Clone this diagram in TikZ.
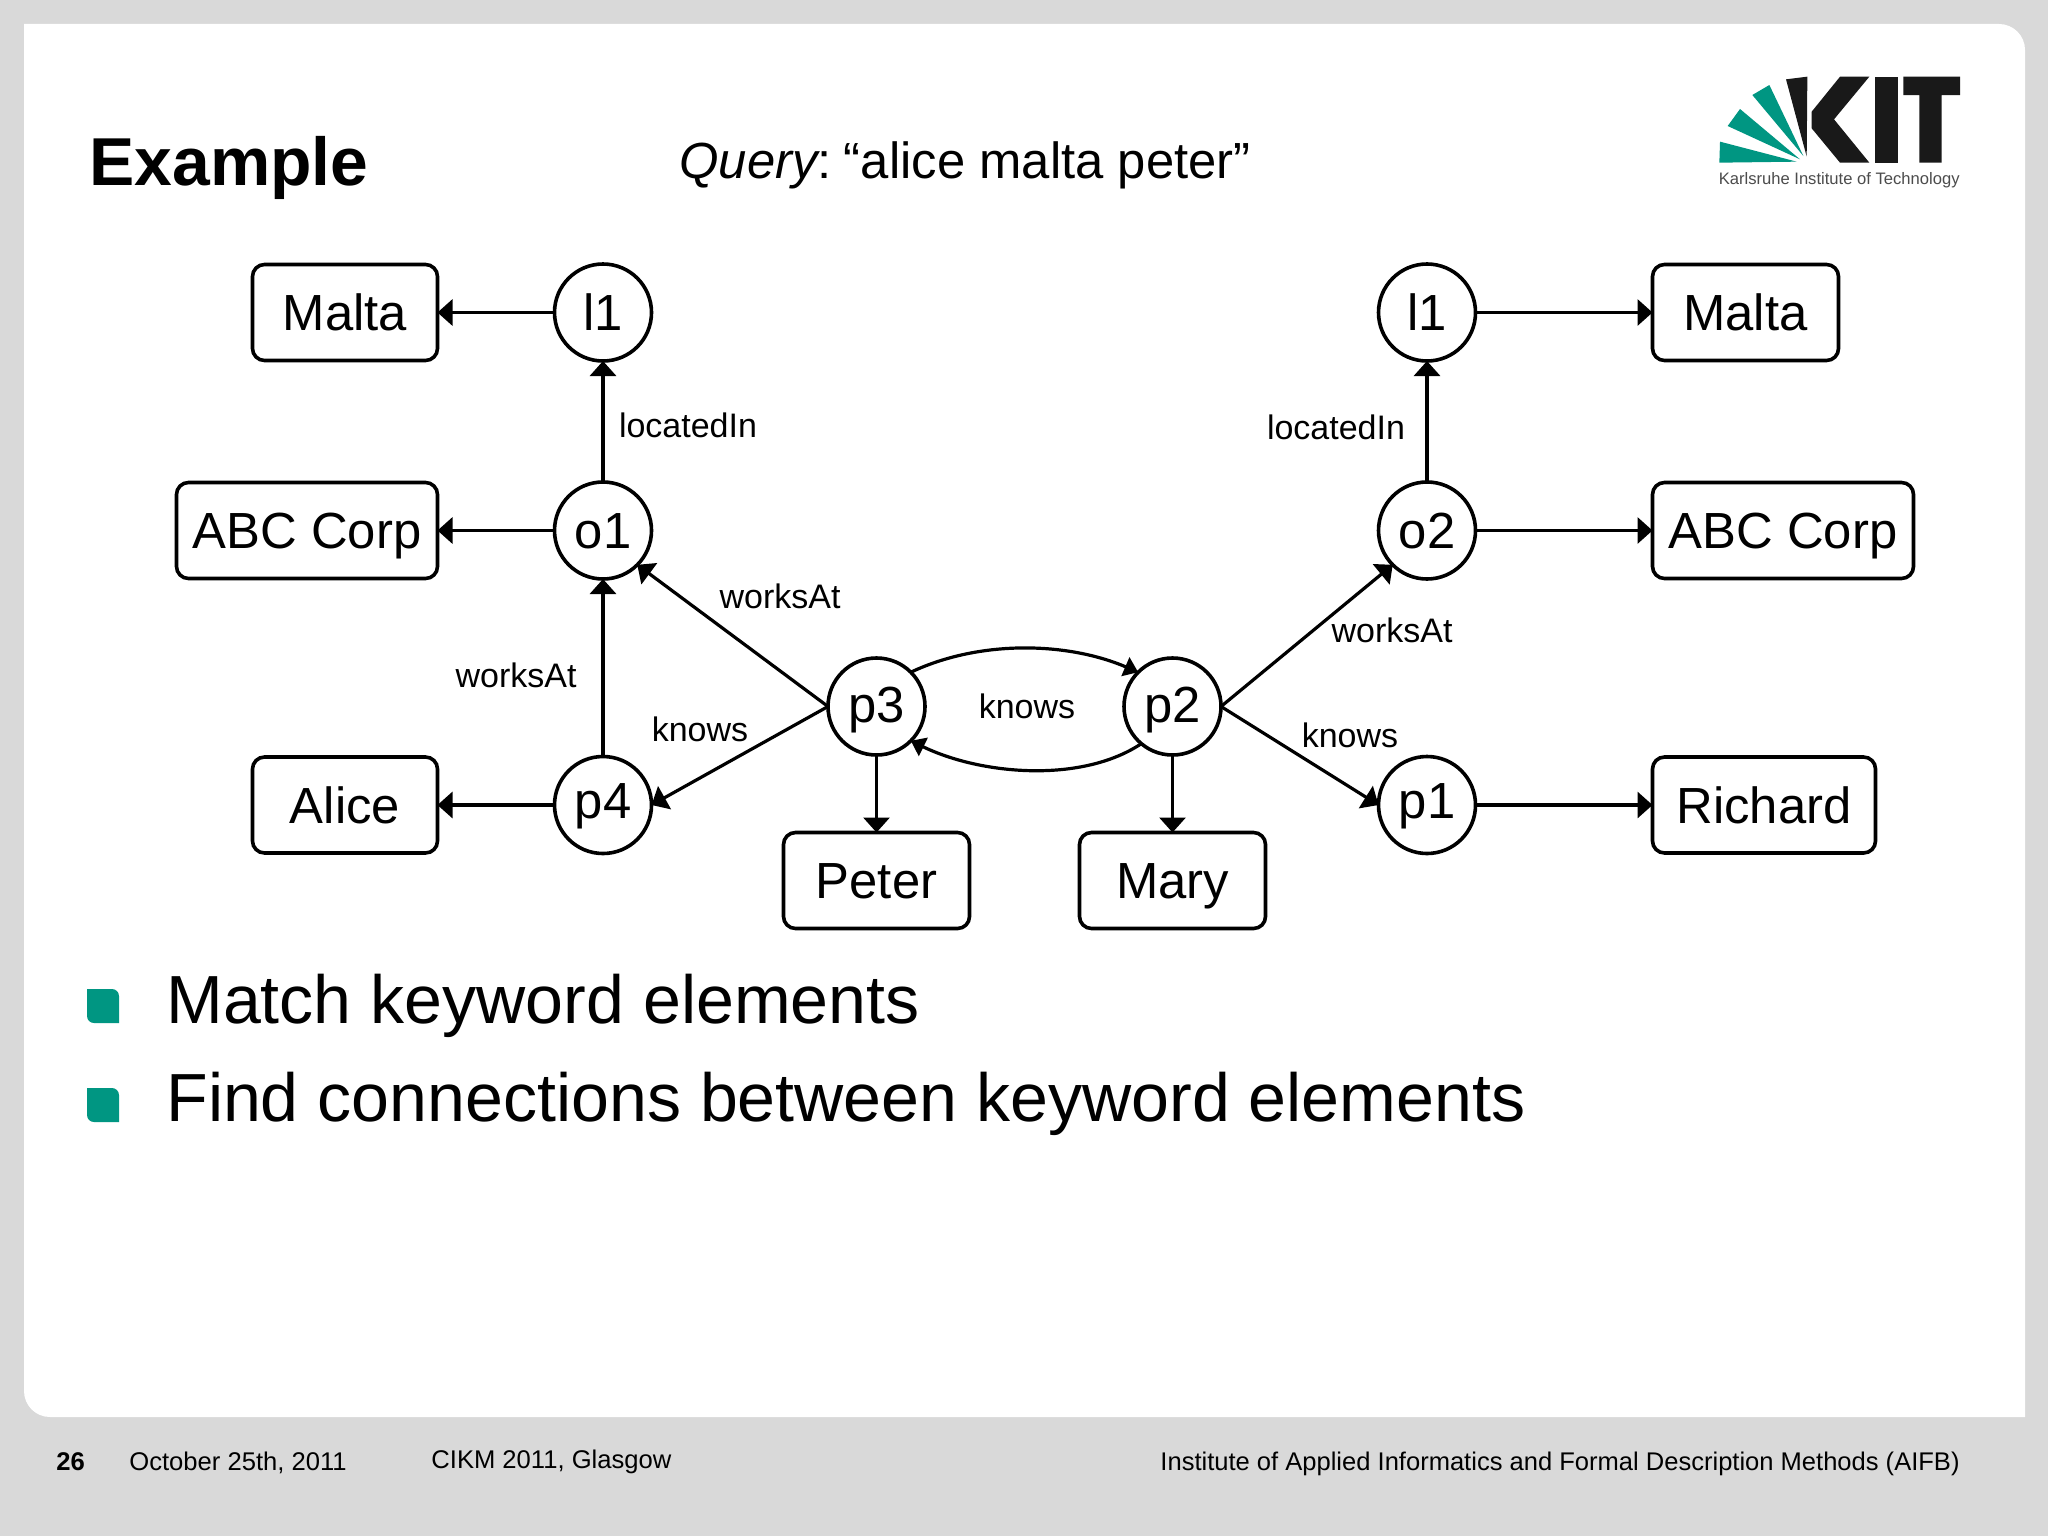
\documentclass[tikz,border=0pt]{standalone}
\usepackage{fontspec}
\setmainfont{Liberation Sans}
\usetikzlibrary{arrows.meta}
\definecolor{kitgreen}{HTML}{009682}
\definecolor{slidegray}{HTML}{D9D9D9}
\tikzset{
  x=0.5pt,y=-0.5pt,
  circ/.style={circle,draw=black,line width=1.8pt,fill=white,minimum size=48.5pt,inner sep=0pt,outer sep=0pt,
    font=\fontsize{25.4}{30}\selectfont,text height=18.3pt,text depth=2.5pt},
  lit/.style={rectangle,draw=black,line width=1.8pt,fill=white,rounded corners=6pt,minimum height=48pt,inner sep=0pt,outer sep=0pt,
    font=\fontsize{25.4}{30}\selectfont,text height=18.3pt,text depth=0pt},
  lbl/.style={inner sep=0pt,font=\fontsize{17}{20}\selectfont},
  txt/.style={inner sep=0pt,anchor=base west},
  bigarrow/.style={line width=1.6pt,-{Triangle[length=7.5pt,width=13pt]}},
  smallarrow/.style={line width=1.6pt,-{Triangle[length=7pt,width=10pt]}},
  bul/.style={fill=kitgreen},
}
\begin{document}
\begin{tikzpicture}
\useasboundingbox (0,0) rectangle (2048,1536);
\fill[slidegray] (0,0) rectangle (2048,1536);
% slide
\fill[white] (24,24) -- (1999,24) arc[start angle=90,end angle=0,x radius=13pt,y radius=13pt] -- (2025,1417) -- (50,1417) arc[start angle=270,end angle=180,x radius=13pt,y radius=13pt] -- cycle;
% logo
\begin{scope}[shift={(1680,50)},x=0.16667pt,y=-0.16667pt]
\fill[kitgreen] (120,275) -- (118,338) -- (350,335) -- cycle;
\fill[kitgreen] (180,177) -- (143,228) -- (360,328) -- cycle;
\fill[kitgreen] (268,105) -- (217,135) -- (370,318) -- cycle;
\fill[black!90] (318,88) -- (382,80) -- (380,320) -- cycle;
\fill[black!90] (480,80) -- (568,80) -- (462,208) -- (568,338) -- (480,338) -- (395,235) -- (395,185) -- cycle;
\fill[black!90] (585,80) rectangle (655,338);
\fill[black!90] (670,80) -- (840,80) -- (840,135) -- (785,135) -- (785,338) -- (718,338) -- (718,135) -- (670,135) -- cycle;
\node[txt,text=black!70,font=\fontsize{8.3}{10}\selectfont] (logotext) at (115,403) {Karlsruhe Institute of Technology};
\end{scope}
% titles
\node[txt,font=\fontsize{33.9}{40}\selectfont\bfseries] (title) at (89,185) {Example};
\node[txt,font=\fontsize{25.4}{30}\selectfont] (query) at (679,178) {{\itshape Query}:\kern-1pt\ “alice malta peter”};
% nodes
\node[circ,text depth=0pt] (l1a) at (603,312.5) {l1};
\node[circ,text depth=0pt] (o1) at (603,530.5) {o1};
\node[circ,text depth=5pt] (p4) at (603,805) {p4};
\node[circ] (p3) at (876.5,706.5) {p3};
\node[circ] (p2) at (1172.5,706.5) {p2};
\node[circ,text depth=0pt] (l1b) at (1427,312.5) {l1};
\node[circ,text depth=0pt] (o2) at (1427,530.5) {o2};
\node[circ,text depth=5pt] (p1) at (1427,805) {p1};
\node[lit,minimum width=92.5pt] (maltaa) at (345,312.5) {Malta};
\node[lit,minimum width=130.5pt] (abca) at (307,530.5) {ABC Corp};
\node[lit,minimum width=92.5pt] (alice) at (345,805) {Alice};
\node[lit,minimum width=93pt] (peter) at (876.5,880.5) {Peter};
\node[lit,minimum width=93pt] (mary) at (1172.5,880.5) {Mary};
\node[lit,minimum width=93pt] (maltab) at (1745.5,312.5) {Malta};
\node[lit,minimum width=130.5pt] (abcb) at (1783,530.5) {ABC Corp};
\node[lit,minimum width=111.5pt] (richard) at (1764,805) {Richard};
% connectors
\draw[bigarrow] (l1a) -- (maltaa);
\draw[bigarrow] (o1) -- (abca);
\draw[bigarrow] (p4) -- (alice);
\draw[bigarrow] (o1) -- (l1a);
\draw[bigarrow] (p4) -- (o1);
\draw[bigarrow] (o2) -- (l1b);
\draw[bigarrow] (l1b) -- (maltab);
\draw[bigarrow] (o2) -- (abcb);
\draw[bigarrow] (p1) -- (richard);
\draw[bigarrow] (p3) -- (peter);
\draw[bigarrow] (p2) -- (mary);
\draw[bigarrow] (p3.west) -- (o1.-45);
\draw[bigarrow] (p3.west) -- (p4.east);
\draw[bigarrow] (p2.east) -- (o2.225);
\draw[bigarrow] (p2.east) -- (p1.west);
\draw[smallarrow] (p3.45) .. controls +(70,-33) and +(-70,-30) .. (p2.135);
\draw[smallarrow] (p2.230) .. controls +(-60,40) and +(70,34) .. (p3.-45);
% edge labels
\node[lbl] (e1) at (688,425) {locatedIn};
\node[lbl] (e2) at (1336,427) {locatedIn};
\node[lbl] (e3) at (780,596) {worksAt};
\node[lbl] (e4) at (516,675) {worksAt};
\node[lbl] (e5) at (700,729) {knows};
\node[lbl] (e6) at (1027,706) {knows};
\node[lbl] (e7) at (1392,630) {worksAt};
\node[lbl] (e8) at (1350,735) {knows};
% bullets
\fill[bul] (87,989) -- (112,989) arc[start angle=90,end angle=0,x radius=3.5pt,y radius=3.5pt] -- (119,1023) -- (94,1023) arc[start angle=270,end angle=180,x radius=3.5pt,y radius=3.5pt] -- cycle;
\fill[bul] (87,1088) -- (112,1088) arc[start angle=90,end angle=0,x radius=3.5pt,y radius=3.5pt] -- (119,1122) -- (94,1122) arc[start angle=270,end angle=180,x radius=3.5pt,y radius=3.5pt] -- cycle;
\node[txt,font=\fontsize{34.05}{40}\selectfont] (b1) at (166,1023) {Match keyword elements};
\node[txt,font=\fontsize{34.05}{40}\selectfont] (b2) at (166,1121) {Find connections between keyword elements};
% footer
\node[txt,font=\fontsize{12.8}{15}\selectfont\bfseries] (f1) at (56,1470) {26};
\node[txt,font=\fontsize{12.8}{15}\selectfont] (f2) at (129,1470) {October 25th, 2011};
\node[txt,font=\fontsize{12.8}{15}\selectfont] (f3) at (431,1468) {CIKM 2011, Glasgow};
\node[inner sep=0pt,anchor=base east,font=\fontsize{12.77}{15}\selectfont] (f4) at (1960,1470) {Institute of Applied Informatics and Formal Description Methods (AIFB)};
\end{tikzpicture}
\end{document}
